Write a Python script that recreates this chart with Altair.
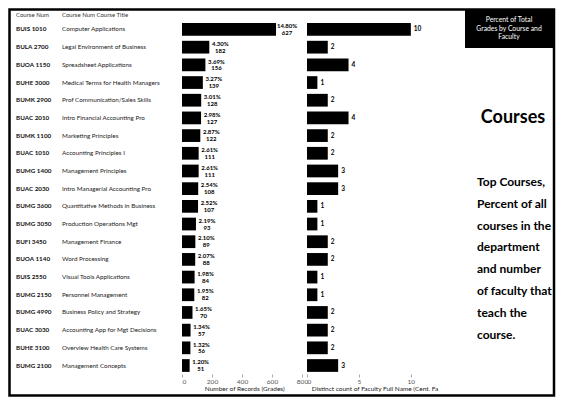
import altair as alt
import pandas as pd

codes = ["BUIS 1010", "BULA 2700", "BUOA 1150", "BUHE 3000", "BUMK 2900",
         "BUAC 2010", "BUMK 1100", "BUAC 1010", "BUMG 1400", "BUAC 2030",
         "BUMG 3600", "BUMG 3050", "BUFI 3450", "BUOA 1140", "BUIS 2550",
         "BUMG 2150", "BUMG 4990", "BUAC 3030", "BUHE 3100", "BUMG 2100"]
titles = ["Computer Applications", "Legal Environment of Business", "Spreadsheet Applications",
          "Medical Terms for Health Managers", "Prof Communication/Sales Skills",
          "Intro Financial Accounting Pro", "Marketing Principles", "Accounting Principles I",
          "Management Principles", "Intro Managerial Accounting Pro",
          "Quantitative Methods in Business", "Production Operations Mgt", "Management Finance",
          "Word Processing", "Visual Tools Applications", "Personnel Management",
          "Business Policy and Strategy", "Accounting App for Mgt Decisions",
          "Overview Health Care Systems", "Management Concepts"]
records = [627, 182, 156, 139, 128, 127, 122, 111, 111, 108, 107, 93, 89, 88, 84, 82, 70, 57, 56, 51]
pct_labels = ["14.80%", "4.30%", "3.69%", "3.27%", "3.01%", "2.98%", "2.87%", "2.61%", "2.61%", "2.54%",
              "2.52%", "2.19%", "2.10%", "2.07%", "1.98%", "1.95%", "1.65%", "1.34%", "1.32%", "1.20%"]
faculty = [10, 2, 4, 1, 2, 4, 2, 2, 3, 3, 1, 1, 2, 2, 1, 1, 2, 2, 2, 3]
rec_ticks = [0, 200, 400, 600, 800]
fac_ticks = [0, 5, 10]

header_texts = ["Course Num", "Course Num Course Title"]
box_title = "Percent of Total\nGrades by Course and\nFaculty"
big_title = "Courses"
paragraph = "Top Courses,\nPercent of all\ncourses in the\ndepartment\nand number\nof faculty that\nteach the\ncourse."

df = pd.DataFrame({"code": codes, "title": titles, "records": records,
                   "pct": pct_labels, "faculty": faculty})
df["rec_label"] = df["records"].astype(str)

W, H = 548, 366
FONT = "Lato"

ysc = alt.Scale(domain=codes, range=[13, 366], paddingInner=0.28, paddingOuter=0.12)
Y = alt.Y("code:N", scale=ysc, axis=None)

base = alt.Chart(df)

code_txt = base.mark_text(align="left", baseline="middle", fontSize=6.3, fontWeight="bold",
                          font=FONT, color="#111").encode(y=Y, x=alt.value(8), text="code:N")
title_txt = base.mark_text(align="left", baseline="middle", fontSize=6.3,
                           font=FONT, color="#222").encode(y=Y, x=alt.value(54), text="title:N")

rsc = alt.Scale(domain=[0, 830], range=[174, 298.5], nice=False, zero=True)
bars1 = base.mark_bar(color="#000").encode(
    y=Y,
    x=alt.X("records:Q", scale=rsc,
            axis=alt.Axis(values=rec_ticks, title="Number of Records (Grades)", orient="bottom")),
)
pct_txt = base.mark_text(align="center", baseline="middle", fontSize=6, fontWeight="bold",
                         font=FONT, dx=11, dy=-3.3, color="#000").encode(
    y=Y, x=alt.X("records:Q", scale=rsc, axis=None), text="pct:N")
cnt_txt = base.mark_text(align="center", baseline="middle", fontSize=6, fontWeight="bold",
                         font=FONT, dx=11, dy=3.6, color="#000").encode(
    y=Y, x=alt.X("records:Q", scale=rsc, axis=None), text="rec_label:N")

fsc = alt.Scale(domain=[0, 13], range=[299, 434], nice=False, zero=True)
bars2 = base.mark_bar(color="#000").encode(
    y=Y,
    x=alt.X("faculty:Q", scale=fsc,
            axis=alt.Axis(values=fac_ticks, title="Distinct count of Faculty Full Name (Cent. Fa",
                          orient="bottom", labelOverlap=False)),
)
fac_txt = base.mark_text(align="left", baseline="middle", fontSize=6.5, fontWeight="bold",
                         font=FONT, dx=3, color="#000").encode(
    y=Y, x=alt.X("faculty:Q", scale=fsc, axis=None), text="faculty:Q")

hdr = pd.DataFrame({"t": header_texts, "xpos": [8, 54]})
header = alt.Chart(hdr).mark_text(align="left", baseline="middle", fontSize=6, font=FONT,
                                  color="#333").encode(
    x=alt.X("xpos:Q", scale=None), y=alt.value(7), text="t:N")

one = pd.DataFrame({"a": [0]})
box = alt.Chart(one).mark_rect(color="#000").encode(
    x=alt.value(457), x2=alt.value(545), y=alt.value(2), y2=alt.value(40))
box_txt = alt.Chart(pd.DataFrame({"t": [box_title]})).mark_text(
    align="center", baseline="top", fontSize=6.8, font=FONT, color="#ffffff",
    lineBreak="\n", lineHeight=8.5).encode(x=alt.value(501), y=alt.value(9), text="t:N")
big = alt.Chart(pd.DataFrame({"t": [big_title]})).mark_text(
    align="center", baseline="middle", fontSize=18, fontWeight="bold", font=FONT,
    color="#000").encode(x=alt.value(505), y=alt.value(110), text="t:N")
para = alt.Chart(pd.DataFrame({"t": [paragraph]})).mark_text(
    align="left", baseline="middle", fontSize=12, fontWeight="bold", font=FONT, color="#000",
    lineBreak="\n", lineHeight=21.8).encode(x=alt.value(469), y=alt.value(174), text="t:N")
border = alt.Chart(one).mark_rect(filled=False, stroke="#000", strokeWidth=2.5).encode(
    x=alt.value(1.5), x2=alt.value(546), y=alt.value(1.5), y2=alt.value(387.5))

chart = alt.layer(
    code_txt, title_txt, bars1, pct_txt, cnt_txt, bars2, fac_txt,
    header, box, box_txt, big, para, border
).resolve_scale(x="independent").properties(
    width=W, height=H,
    autosize=alt.AutoSizeParams(type="none"),
    padding={"left": 0, "top": 0, "right": 0, "bottom": 23},
).configure_view(strokeWidth=0).configure_axis(
    grid=False, domain=False, labelFontSize=6.5, labelColor="#555", labelFont=FONT,
    titleFontSize=6.5, titleFont=FONT, titleColor="#222", titleFontWeight="normal",
    tickSize=3, tickColor="#aaa", labelPadding=1, titlePadding=1,
)

chart.save("out.html", embed_options={"renderer": "svg", "actions": False})
